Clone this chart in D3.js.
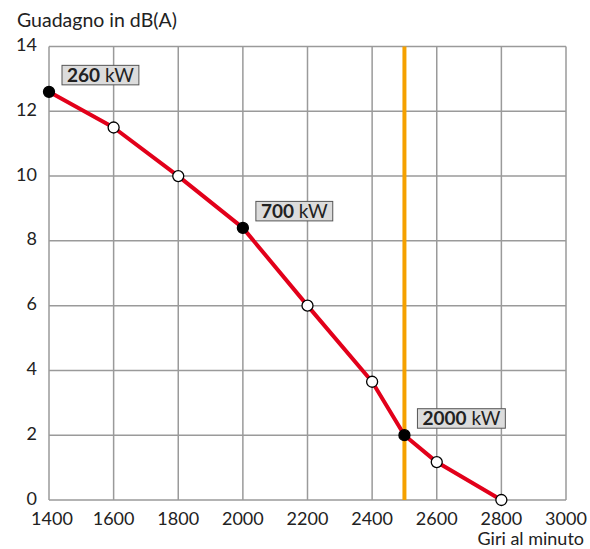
<!DOCTYPE html>
<html lang="it">
<head>
<meta charset="UTF-8">
<title>Guadagno in dB(A)</title>
<script src="https://cdn.jsdelivr.net/npm/d3@7"></script>
<style>
  body { margin: 0; background: #fff; }
  svg text { font-family: Lato, "Open Sans", sans-serif; fill: #222; }
</style>
</head>
<body>
<div id="chart"></div>
<script>
// dati
const giri = [1400, 1600, 1800, 2000, 2200, 2400, 2500, 2600, 2800];
const guadagno = [12.6, 11.5, 10.0, 8.4, 6.0, 3.65, 2.0, 1.17, 0.0];
const pieni = [true, false, false, true, false, false, true, false, false];
const etichette = [
  { giri: 1400, kw: "260" },
  { giri: 2000, kw: "700" },
  { giri: 2500, kw: "2000" }
];
const lineaVerticale = 2500;
const xTicks = [1400, 1600, 1800, 2000, 2200, 2400, 2600, 2800, 3000];
const yTicks = [0, 2, 4, 6, 8, 10, 12, 14];

const width = 590, height = 549;
const m = { top: 46.5, right: 24, bottom: 49, left: 49 };
const fs = "18px";

const svg = d3.select("#chart").append("svg")
  .attr("width", width)
  .attr("height", height);

const x = d3.scaleLinear().domain([1400, 3000]).range([m.left, width - m.right]);
const y = d3.scaleLinear().domain([0, 14]).range([height - m.bottom, m.top]);

// griglia
const grid = svg.append("g").attr("stroke", "#9a9a9a").attr("stroke-width", 1.5);
grid.selectAll("line.v")
  .data(xTicks)
  .join("line")
  .attr("class", "v")
  .attr("x1", d => x(d)).attr("x2", d => x(d))
  .attr("y1", y(0)).attr("y2", y(14));
grid.selectAll("line.h")
  .data(yTicks)
  .join("line")
  .attr("class", "h")
  .attr("x1", x(1400)).attr("x2", x(3000))
  .attr("y1", d => y(d)).attr("y2", d => y(d));

// etichette assi
svg.append("g").selectAll("text")
  .data(yTicks)
  .join("text")
  .attr("x", 37)
  .attr("y", d => y(d))
  .attr("dy", "0.25em")
  .attr("text-anchor", "end")
  .attr("font-size", fs)
  .text(d => d);

svg.append("g").selectAll("text")
  .data(xTicks)
  .join("text")
  .attr("x", d => d === 1400 ? x(d) + 3 : x(d))
  .attr("y", 524.5)
  .attr("text-anchor", "middle")
  .attr("font-size", fs)
  .text(d => d);

svg.append("text")
  .attr("x", 17).attr("y", 26.5)
  .attr("font-size", "19.5px")
  .text("Guadagno in dB(A)");

svg.append("text")
  .attr("x", 584).attr("y", 545)
  .attr("text-anchor", "end")
  .attr("font-size", fs)
  .text("Giri al minuto");

// linea arancione
svg.append("line")
  .attr("x1", x(lineaVerticale)).attr("x2", x(lineaVerticale))
  .attr("y1", y(14)).attr("y2", y(0))
  .attr("stroke", "#f5a100")
  .attr("stroke-width", 4);

// curva
const punti = giri.map((g, i) => ({ giri: g, db: guadagno[i], pieno: pieni[i] }));
svg.append("path")
  .datum(punti)
  .attr("fill", "none")
  .attr("stroke", "#e2001a")
  .attr("stroke-width", 4)
  .attr("stroke-linejoin", "round")
  .attr("d", d3.line().x(d => x(d.giri)).y(d => y(d.db)));

svg.append("g").selectAll("circle")
  .data(punti)
  .join("circle")
  .attr("cx", d => x(d.giri))
  .attr("cy", d => y(d.db))
  .attr("r", 5.5)
  .attr("fill", d => d.pieno ? "#000" : "#fff")
  .attr("stroke", "#000")
  .attr("stroke-width", 1.3);

// riquadri kW
const box = svg.append("g").selectAll("g")
  .data(etichette)
  .join("g")
  .attr("transform", d => {
    const v = guadagno[giri.indexOf(d.giri)];
    return `translate(${x(d.giri) + 13},${y(v) - 7})`;
  });

box.each(function(d) {
  const g = d3.select(this);
  const t = g.append("text")
    .attr("x", 5).attr("y", -3)
    .attr("font-size", "19px");
  t.append("tspan").attr("font-weight", "bold").text(d.kw);
  t.append("tspan").text(" kW");
  const w = t.node().getComputedTextLength();
  g.insert("rect", "text")
    .attr("x", 0).attr("y", -19.5)
    .attr("width", w + 10).attr("height", 19.5)
    .attr("fill", "#dcdcdc")
    .attr("stroke", "#555")
    .attr("stroke-width", 1);
});
</script>
</body>
</html>
